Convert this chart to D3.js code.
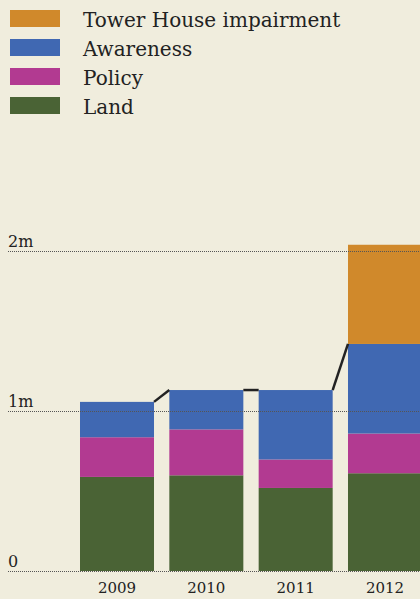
<!DOCTYPE html>
<html lang="en">
<head>
    <meta charset="UTF-8">
    <title>Stacked spending by year</title>
    <script src="https://d3js.org/d3.v7.min.js"></script>
    <style>
        body {
            margin: 0;
            background-color: #f0eddd;
        }
        svg text {
            font-family: "DejaVu Serif", Georgia, serif;
            fill: #222;
        }
    </style>
</head>
<body>
    <svg width="420" height="599"></svg>

    <script>
        // Data (values in millions)
        var years = ["2009", "2010", "2011", "2012"];
        var land = [0.588, 0.598, 0.519, 0.611];
        var policy = [0.248, 0.287, 0.178, 0.248];
        var awareness = [0.221, 0.246, 0.434, 0.560];
        var towerHouse = [0, 0, 0, 0.620];

        var seriesKeys = ["land", "policy", "awareness", "tower"];
        var seriesNames = ["Land", "Policy", "Awareness", "Tower House impairment"];
        var seriesColors = ["#4a6335", "#b23a91", "#4068b2", "#d0892b"];

        var yTicks = [0, 1, 2];
        var yTickLabels = ["0", "1m", "2m"];

        var rows = years.map(function(y, i) {
            return { year: y, land: land[i], policy: policy[i], awareness: awareness[i], tower: towerHouse[i] };
        });

        var svg = d3.select("svg");

        var x = d3.scaleBand()
                  .domain(years)
                  .range([80, 422])
                  .paddingInner(0.1716)
                  .paddingOuter(0);

        var y = d3.scaleLinear()
                  .domain([0, 2])
                  .range([571, 251]);

        var color = d3.scaleOrdinal()
                      .domain(seriesKeys)
                      .range(seriesColors);

        // Bars
        var stacked = d3.stack().keys(seriesKeys)(rows);

        svg.append("g")
           .selectAll("g")
           .data(stacked)
           .enter().append("g")
           .attr("fill", function(d) { return color(d.key); })
           .selectAll("rect")
           .data(function(d) { return d; })
           .enter().append("rect")
           .attr("x", function(d) { return x(d.data.year); })
           .attr("y", function(d) { return y(d[1]); })
           .attr("height", function(d) { return y(d[0]) - y(d[1]); })
           .attr("width", x.bandwidth());

        // Connector lines between bar tops (without Tower House)
        var baseTotals = rows.map(function(r) { return r.land + r.policy + r.awareness; });
        var links = d3.pairs(d3.range(years.length));

        svg.append("g")
           .selectAll("line")
           .data(links)
           .enter().append("line")
           .attr("x1", function(d) { return x(years[d[0]]) + x.bandwidth(); })
           .attr("y1", function(d) { return y(baseTotals[d[0]]); })
           .attr("x2", function(d) { return x(years[d[1]]); })
           .attr("y2", function(d) { return y(baseTotals[d[1]]); })
           .attr("stroke", "#222")
           .attr("stroke-width", 2.5);

        // Gridlines, drawn over the bars
        var grid = svg.append("g")
           .attr("transform", "translate(8,0)")
           .call(d3.axisRight(y)
                   .tickValues(yTicks)
                   .tickSize(412)
                   .tickFormat(function(d, i) { return yTickLabels[i]; }));

        grid.select(".domain").remove();
        grid.selectAll(".tick line")
            .attr("stroke", "#555")
            .attr("stroke-dasharray", "1,1");
        grid.selectAll(".tick text")
            .attr("x", 0)
            .attr("dy", "-5px")
            .attr("text-anchor", "start")
            .style("font-size", "16px")
            .style("font-family", "\"DejaVu Serif\", serif");

        // Year labels
        var xAxis = svg.append("g")
           .attr("transform", "translate(0,571)")
           .call(d3.axisBottom(x).tickSize(0).tickPadding(11));

        xAxis.select(".domain").remove();
        xAxis.selectAll("text")
             .style("font-size", "15px")
             .style("font-family", "\"DejaVu Serif\", serif")
             .attr("fill", "#222");

        // Legend
        var legendOrder = [3, 2, 1, 0];
        var legend = svg.append("g")
           .selectAll("g")
           .data(legendOrder)
           .enter().append("g")
           .attr("transform", function(d, i) { return "translate(10," + (10 + i * 29) + ")"; });

        legend.append("rect")
              .attr("width", 50)
              .attr("height", 17)
              .attr("fill", function(d) { return seriesColors[d]; });

        legend.append("text")
              .attr("x", 73)
              .attr("y", 17)
              .style("font-size", "20px")
              .text(function(d) { return seriesNames[d]; });
    </script>
</body>
</html>
